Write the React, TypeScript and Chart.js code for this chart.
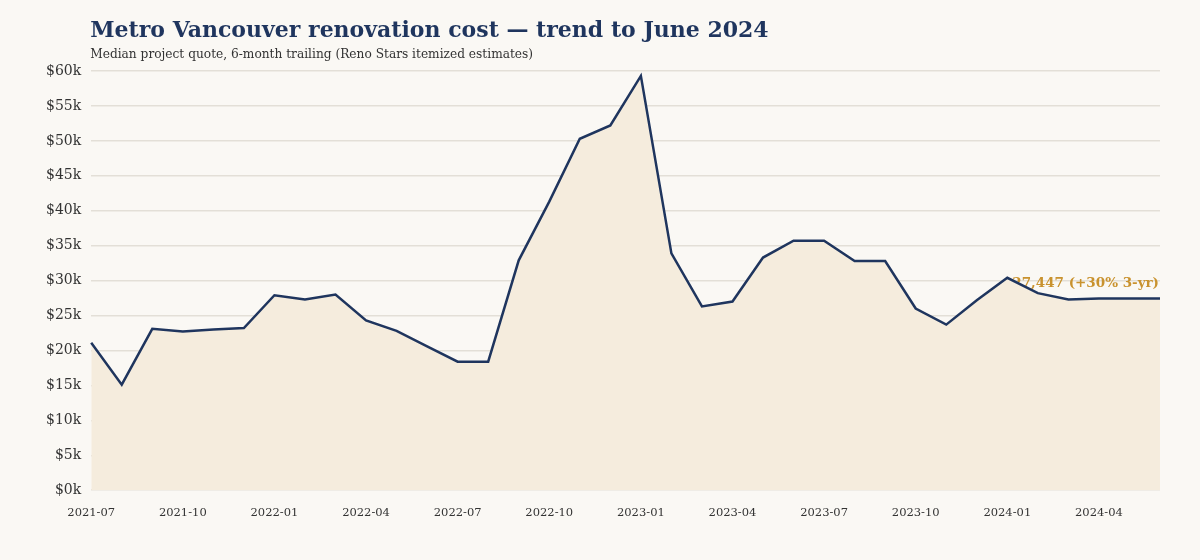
import React, { useEffect, useRef } from "react";
import { Chart, registerables } from "chart.js";

Chart.register(...registerables);

// Monthly periods, July 2021 through June 2024
const months: string[] = [
  "2021-07", "2021-08", "2021-09", "2021-10", "2021-11", "2021-12",
  "2022-01", "2022-02", "2022-03", "2022-04", "2022-05", "2022-06",
  "2022-07", "2022-08", "2022-09", "2022-10", "2022-11", "2022-12",
  "2023-01", "2023-02", "2023-03", "2023-04", "2023-05", "2023-06",
  "2023-07", "2023-08", "2023-09", "2023-10", "2023-11", "2023-12",
  "2024-01", "2024-02", "2024-03", "2024-04", "2024-05", "2024-06",
];

// Median project quote (CAD), 6-month trailing
const medianQuote: number[] = [
  21100, 15100, 23100, 22700, 23000, 23200,
  27900, 27300, 28000, 24300, 22800, 20600,
  18400, 18400, 32900, 41300, 50300, 52200,
  59300, 33900, 26300, 27000, 33300, 35700,
  35700, 32800, 32800, 26000, 23700, 27200,
  30400, 28200, 27300, 27450, 27447, 27447,
];

const latestLabel = "$27,447 (+30% 3-yr)";
const titleText = "Metro Vancouver renovation cost \u2014 trend to June 2024";
const subtitleText = "Median project quote, 6-month trailing (Reno Stars itemized estimates)";

const NAVY = "#1f355e";
const GOLD = "#c9922e";
const FILL = "#f5ecdd";
const GRID = "#e3dfd7";
const BG = "#faf8f4";
const SERIF = "'DejaVu Serif', Georgia, serif";

const headerPlugin = {
  id: "header",
  afterDraw(chart: Chart) {
    const { ctx, chartArea } = chart;
    ctx.save();
    ctx.textAlign = "left";
    ctx.textBaseline = "alphabetic";
    ctx.fillStyle = NAVY;
    ctx.font = `bold 22px ${SERIF}`;
    ctx.fillText(titleText, chartArea.left - 1, 37);
    ctx.fillStyle = "#333333";
    ctx.font = `12.2px ${SERIF}`;
    ctx.fillText(subtitleText, chartArea.left - 1, 58);
    ctx.restore();
  },
};

const latestLabelPlugin = {
  id: "latestLabel",
  beforeDatasetsDraw(chart: Chart) {
    const { ctx, chartArea } = chart;
    const meta = chart.getDatasetMeta(0);
    const last = meta.data[meta.data.length - 1];
    if (!last) return;
    ctx.save();
    ctx.textAlign = "right";
    ctx.textBaseline = "alphabetic";
    ctx.fillStyle = GOLD;
    ctx.font = `bold 13.5px ${SERIF}`;
    ctx.fillText(latestLabel, chartArea.right - 1, last.y - 11);
    ctx.restore();
  },
};

export default function App() {
  const canvasRef = useRef<HTMLCanvasElement | null>(null);

  useEffect(() => {
    document.body.style.margin = "0";
    document.body.style.background = BG;
    const canvas = canvasRef.current;
    if (!canvas) return;
    const chart = new Chart(canvas, {
      type: "line",
      data: {
        labels: months,
        datasets: [
          {
            data: medianQuote,
            borderColor: NAVY,
            borderWidth: 2.5,
            backgroundColor: FILL,
            fill: "origin",
            pointRadius: 0,
            tension: 0,
          },
        ],
      },
      options: {
        animation: false,
        responsive: false,
        maintainAspectRatio: false,
        layout: { padding: { top: 71, right: 40, bottom: 32, left: 36 } },
        plugins: {
          legend: { display: false },
          tooltip: { enabled: false },
          title: { display: false },
        },
        scales: {
          x: {
            type: "category",
            offset: false,
            grid: { display: false },
            border: { display: false },
            ticks: {
              autoSkip: false,
              maxRotation: 0,
              color: "#333333",
              font: { family: SERIF, size: 11.5 },
              padding: 8,
              callback: (_v: any, i: number) => (i % 3 === 0 ? months[i] : ""),
            },
          },
          y: {
            min: 0,
            max: 60000,
            grid: { color: GRID, lineWidth: 1.5, drawTicks: false },
            border: { display: false },
            ticks: {
              stepSize: 5000,
              color: "#333333",
              font: { family: SERIF, size: 14 },
              padding: 10,
              callback: (v: any) => `$${Math.round(Number(v) / 1000)}k`,
            },
          },
        },
      },
      plugins: [latestLabelPlugin, headerPlugin],
    });
    return () => chart.destroy();
  }, []);

  return (
    <div style={{ width: 1200, height: 560, background: BG }}>
      <canvas ref={canvasRef} width={1200} height={560} />
    </div>
  );
}
